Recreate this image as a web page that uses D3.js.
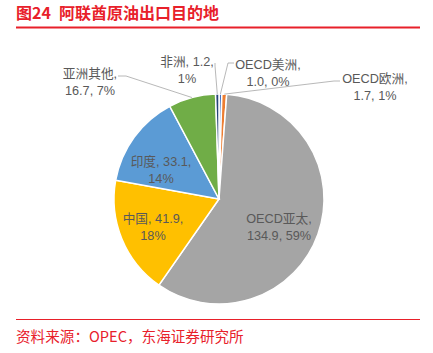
<!DOCTYPE html>
<html>
<head>
<meta charset="utf-8">
<script src="https://cdn.jsdelivr.net/npm/d3@7"></script>
<style>
  body { margin: 0; background: #fff; }
  svg { display: block; font-family: "Liberation Sans", "Noto Sans CJK SC", sans-serif; }
</style>
</head>
<body>
<svg id="chart"></svg>
<script>
// data, in Excel series order (first slice starts at 12 o'clock, clockwise)
const categories = ['OECD美洲', 'OECD欧洲', 'OECD亚太', '中国', '印度', '亚洲其他', '非洲'];
const values = [1.0, 1.7, 134.9, 41.9, 33.1, 16.7, 1.2];
const percentLabels = ['0%', '1%', '59%', '18%', '14%', '7%', '1%'];
const colors = ['#4472C4', '#ED7D31', '#A5A5A5', '#FFC000', '#5B9BD5', '#70AD47', '#264478'];

const WIDTH = 433;
const HEIGHT = 353;
const CX = 219;
const CY = 199;
const RADIUS = 105;
const RED = '#E8202A';
const TEXT_COLOR = '#595959';

// label layout, offsets from the pie centre (x = text centre, y = first baseline)
const labelLayout = {
    'OECD美洲': { dx: 49, dy: -130, lead: [[15, -136], [9, -136]] },
    'OECD欧洲': { dx: 156, dy: -116, lead: [[121, -118], [115, -118]] },
    'OECD亚太': { dx: 60, dy: 24 },
    '中国': { dx: -66, dy: 23.5 },
    '印度': { dx: -58, dy: -33 },
    '亚洲其他': { dx: -129, dy: -121, lead: [[-101, -123], [-93, -123]] },
    '非洲': { dx: -32, dy: -133, lead: [[-4, -136], [-4, -133]] }
};

const data = categories.map((c, i) => ({ name: c, value: values[i], pct: percentLabels[i], color: colors[i] }));

const svg = d3.select('#chart').attr('width', WIDTH).attr('height', HEIGHT);

// title + rules
const title = svg.append('g')
    .attr('fill', RED)
    .attr('font-size', 16)
    .attr('font-weight', 'bold')
    .attr('font-family', '"Noto Sans CJK SC", sans-serif');

title.append('text').attr('x', 16).attr('y', 19).text('图24');
title.append('text').attr('x', 59).attr('y', 19).text('阿联酋原油出口目的地');

svg.append('line')
    .attr('x1', 16).attr('x2', 420)
    .attr('y1', 27.5).attr('y2', 27.5)
    .attr('stroke', RED)
    .attr('stroke-width', 2);

svg.append('line')
    .attr('x1', 16).attr('x2', 420)
    .attr('y1', 319.5).attr('y2', 319.5)
    .attr('stroke', RED)
    .attr('stroke-width', 1.2);

svg.append('text')
    .attr('x', 16)
    .attr('y', 342)
    .attr('fill', RED)
    .attr('font-size', 14.6)
    .attr('font-family', '"Noto Sans CJK SC", sans-serif')
    .text('资料来源：OPEC，东海证券研究所');

// pie
const pie = d3.pie().value(d => d.value).sort(null);
const arc = d3.arc().innerRadius(0).outerRadius(RADIUS);
const edgeArc = d3.arc().innerRadius(RADIUS).outerRadius(RADIUS);

const arcs = pie(data);

const g = svg.append('g').attr('transform', `translate(${CX}, ${CY})`);

g.selectAll('path.slice')
    .data(arcs)
    .join('path')
    .attr('class', 'slice')
    .attr('d', arc)
    .attr('fill', d => d.data.color)
    .attr('stroke', '#fff')
    .attr('stroke-width', 1.5);

// leader lines for the outside labels
g.selectAll('polyline.leader')
    .data(arcs.filter(d => labelLayout[d.data.name].lead))
    .join('polyline')
    .attr('class', 'leader')
    .attr('fill', 'none')
    .attr('stroke', '#A6A6A6')
    .attr('stroke-width', 0.8)
    .attr('points', d => {
        const pts = labelLayout[d.data.name].lead.concat([edgeArc.centroid(d)]);
        return pts.map(p => p.join(',')).join(' ');
    });

// labels: "name, value," / "value%" on two lines, or name / value, pct
const labels = g.selectAll('text.label')
    .data(arcs)
    .join('text')
    .attr('class', 'label')
    .attr('text-anchor', 'middle')
    .attr('fill', TEXT_COLOR)
    .attr('font-size', 12.7)
    .attr('transform', d => {
        const l = labelLayout[d.data.name];
        return `translate(${l.dx}, ${l.dy})`;
    });

const twoLineNames = ['OECD美洲', 'OECD欧洲', 'OECD亚太', '亚洲其他'];

labels.append('tspan')
    .attr('x', 0)
    .attr('y', 0)
    .text(d => twoLineNames.includes(d.data.name)
        ? `${d.data.name},`
        : `${d.data.name}, ${d3.format('.1f')(d.data.value)},`);

labels.append('tspan')
    .attr('x', 0)
    .attr('y', 17)
    .text(d => twoLineNames.includes(d.data.name)
        ? `${d3.format('.1f')(d.data.value)}, ${d.data.pct}`
        : d.data.pct);
</script>
</body>
</html>
